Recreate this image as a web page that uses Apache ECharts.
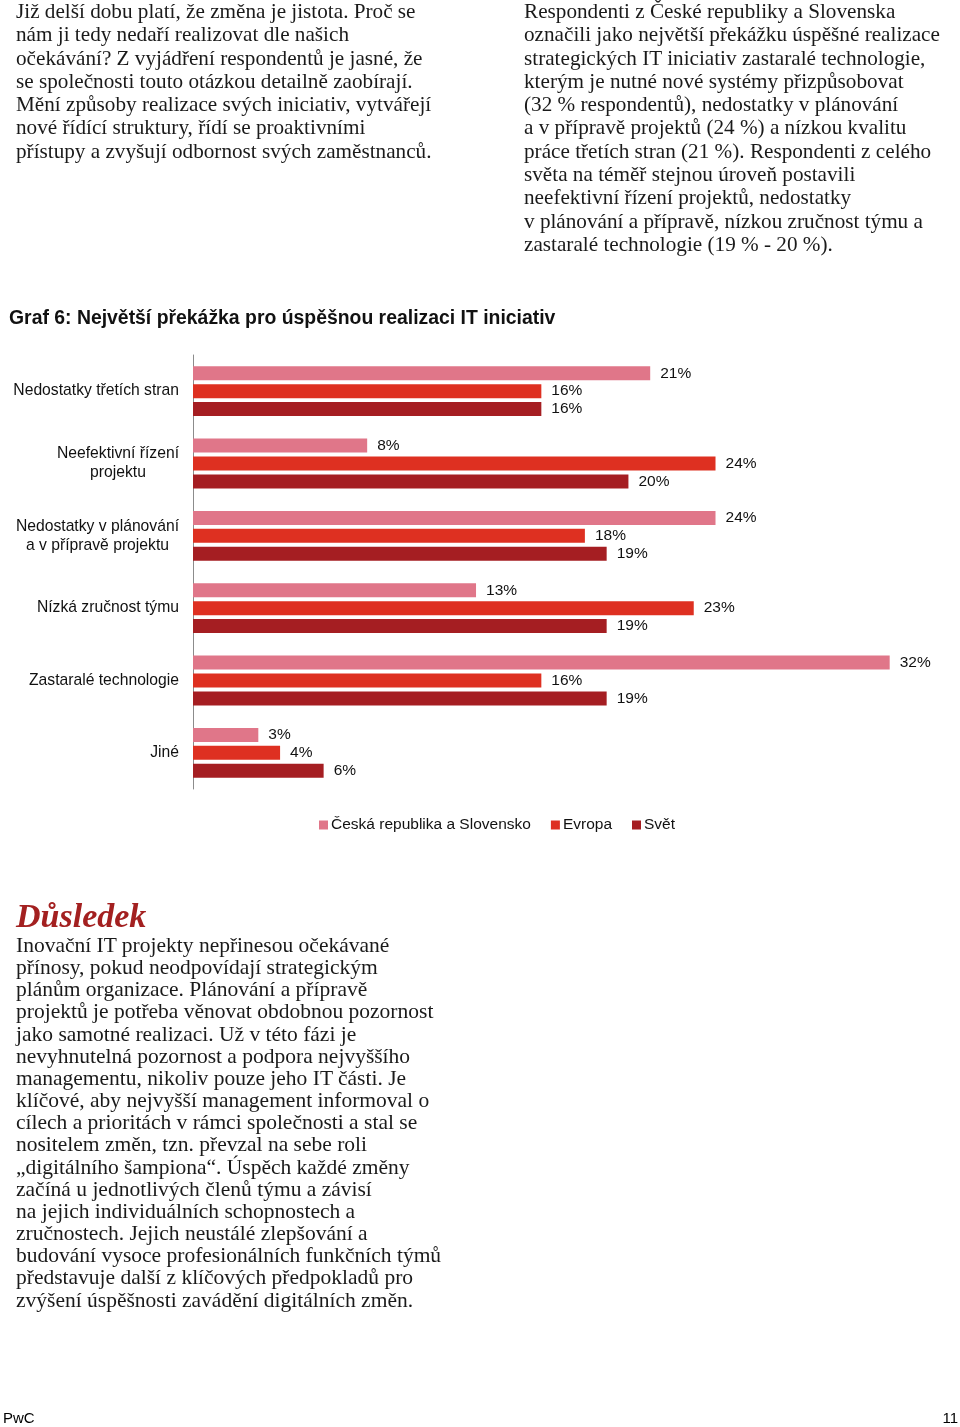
<!DOCTYPE html>
<html>
<head>
<meta charset="utf-8">
<script src="https://cdn.jsdelivr.net/npm/echarts@6/dist/echarts.min.js"></script>
<style>
html,body{margin:0;padding:0;background:#fff;}
#page{position:relative;width:960px;height:1427px;overflow:hidden;}
#chart{position:absolute;left:0;top:0;width:960px;height:1427px;}
.txt{position:absolute;font-family:"Liberation Serif",serif;color:#1a1a1a;white-space:nowrap;z-index:2;}
#p1{left:16px;top:0px;font-size:21.2px;line-height:23.3px;}
#p2{left:524px;top:0px;font-size:21.2px;line-height:23.3px;}
#h3{left:16px;top:897px;font-size:34px;font-weight:bold;font-style:italic;color:#a32020;line-height:38px;}
#p3{left:16px;top:934px;font-size:21.5px;line-height:22.15px;}
.foot{position:absolute;top:1409px;font-family:"Liberation Sans",Arial,sans-serif;font-size:15px;color:#000;z-index:2;}
</style>
</head>
<body>
<div id="page">
<div id="chart"></div>
<div class="txt" id="p1">Již delší dobu platí, že změna je jistota. Proč se<br>nám ji tedy nedaří realizovat dle našich<br>očekávání? Z vyjádření respondentů je jasné, že<br>se společnosti touto otázkou detailně zaobírají.<br>Mění způsoby realizace svých iniciativ, vytvářejí<br>nové řídící struktury, řídí se proaktivními<br>přístupy a zvyšují odbornost svých zaměstnanců.</div>
<div class="txt" id="p2">Respondenti z České republiky a Slovenska<br>označili jako největší překážku úspěšné realizace<br>strategických IT iniciativ zastaralé technologie,<br>kterým je nutné nové systémy přizpůsobovat<br>(32 % respondentů), nedostatky v plánování<br>a v přípravě projektů (24 %) a nízkou kvalitu<br>práce třetích stran (21 %). Respondenti z celého<br>světa na téměř stejnou úroveň postavili<br>neefektivní řízení projektů, nedostatky<br>v plánování a přípravě, nízkou zručnost týmu a<br>zastaralé technologie (19 % - 20 %).</div>
<div class="txt" id="h3">Důsledek</div>
<div class="txt" id="p3">Inovační IT projekty nepřinesou očekávané<br>přínosy, pokud neodpovídají strategickým<br>plánům organizace. Plánování a přípravě<br>projektů je potřeba věnovat obdobnou pozornost<br>jako samotné realizaci. Už v této fázi je<br>nevyhnutelná pozornost a podpora nejvyššího<br>managementu, nikoliv pouze jeho IT části. Je<br>klíčové, aby nejvyšší management informoval o<br>cílech a prioritách v rámci společnosti a stal se<br>nositelem změn, tzn. převzal na sebe roli<br>„digitálního šampiona“. Úspěch každé změny<br>začíná u jednotlivých členů týmu a závisí<br>na jejich individuálních schopnostech a<br>zručnostech. Jejich neustálé zlepšování a<br>budování vysoce profesionálních funkčních týmů<br>představuje další z klíčových předpokladů pro<br>zvýšení úspěšnosti zavádění digitálních změn.</div>
<div class="foot" style="left:3px;">PwC</div>
<div class="foot" style="right:2px;">11</div>
</div>
<script>
const categories = [
  'Nedostatky třetích stran',
  'Neefektivní řízení\nprojektu',
  'Nedostatky v plánování\na v přípravě projektu',
  'Nízká zručnost týmu',
  'Zastaralé technologie',
  'Jiné'
];
const seriesNames = ['Česká republika a Slovensko', 'Evropa', 'Svět'];
const czsk = [21, 8, 24, 13, 32, 3];
const europe = [16, 24, 18, 23, 16, 4];
const world = [16, 20, 19, 19, 19, 6];
const colors = ['#e07689', '#de3021', '#a51e22'];

const chart = echarts.init(document.getElementById('chart'), null, {renderer: 'canvas'});
const sans = '"Liberation Sans", Arial, sans-serif';
const labelCfg = {
  show: true, position: 'right', distance: 10,
  formatter: p => p.value + '%',
  fontFamily: sans, fontSize: 15.5, color: '#111'
};
function mk(name, data, color) {
  return {
    name, type: 'bar', data, barWidth: 14, barGap: '28%',
    itemStyle: {color}, label: labelCfg, silent: true, animation: false
  };
}
chart.setOption({
  animation: false,
  title: {
    text: 'Graf 6: Největší překážka pro úspěšnou realizaci IT iniciativ',
    left: 9, top: 309, padding: 0,
    textStyle: {fontFamily: sans, fontSize: 19.4, fontWeight: 'bold', color: '#111'}
  },
  legend: {
    data: seriesNames, left: 319, top: 817, padding: 0, itemWidth: 9, itemHeight: 9, itemGap: 20,
    icon: 'rect',
    textStyle: {fontFamily: sans, fontSize: 15.5, color: '#111', padding: [0, 0, 0, -2]}
  },
  grid: {left: 193, top: 355, height: 434, width: 762, containLabel: false},
  xAxis: {type: 'value', min: 0, max: 35, show: false},
  yAxis: {
    type: 'category', data: categories, inverse: true,
    axisLine: {show: true, lineStyle: {color: '#8c8c8c', width: 1}},
    axisTick: {show: false},
    axisLabel: {
      margin: 14, fontFamily: sans, fontSize: 15.7, color: '#111', lineHeight: 19,
      formatter: v => v.split('\n').map(l => '{c|' + l + '}').join('\n'),
      rich: {c: {align: 'center', fontFamily: sans, fontSize: 15.7, color: '#111', lineHeight: 19}}
    }
  },
  series: [mk(seriesNames[0], czsk, colors[0]), mk(seriesNames[1], europe, colors[1]), mk(seriesNames[2], world, colors[2])]
});
</script>
</body>
</html>
